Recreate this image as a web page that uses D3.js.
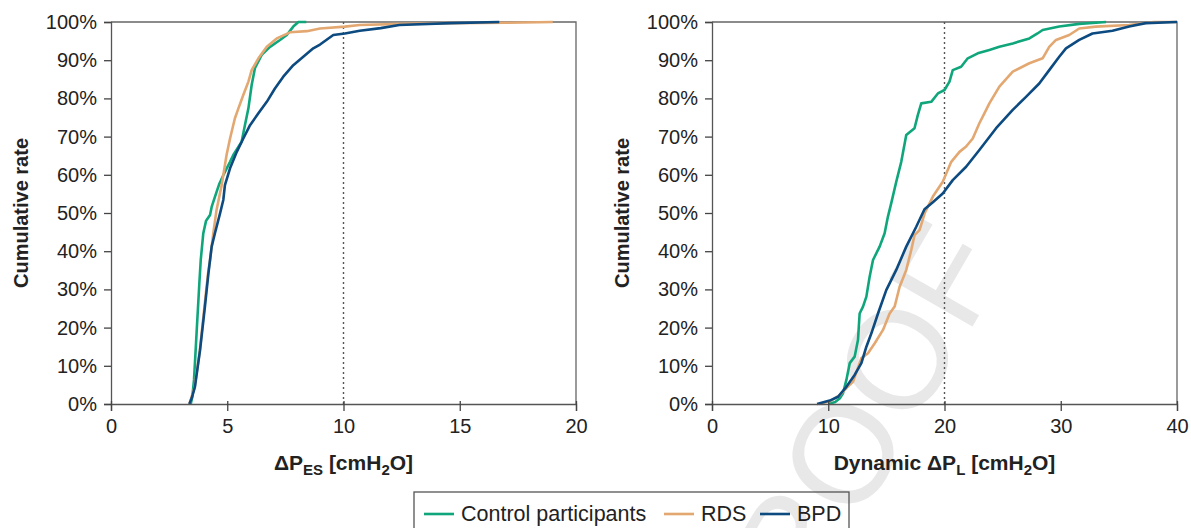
<!DOCTYPE html>
<html>
<head>
<meta charset="utf-8">
<script src="https://cdnjs.cloudflare.com/ajax/libs/d3/7.8.5/d3.min.js"></script>
<style>
  body { margin: 0; background: #fff; }
  svg { display: block; font-family: "Liberation Sans", Arial, sans-serif; }
</style>
</head>
<body>
<script>
// cumulative curves: [value in cmH2O, cumulative %]
var pesControl = [[3.43,0],[3.5,2],[3.57,6.3],[3.68,18.5],[3.8,31.6],[3.86,37.7],[3.97,44.7],[4.09,48],[4.26,49.5],[4.33,51.6],[4.47,54.2],[4.65,57.5],[4.83,59.9],[5.12,63.4],[5.26,65.2],[5.62,68.7],[5.76,73],[5.91,77.4],[6.05,83.5],[6.19,87.9],[6.48,91.4],[6.84,93.5],[7.27,95.3],[7.56,96.6],[7.84,98.8],[8.06,100],[8.4,100]];
var pesRDS = [[3.37,0],[3.6,4.5],[3.82,14],[4.02,25.5],[4.17,34],[4.26,37.7],[4.4,44.7],[4.54,50.8],[4.76,57.3],[4.97,65.2],[5.12,69.5],[5.33,74.8],[5.48,77.4],[5.69,80.9],[5.91,84.4],[6.05,87.4],[6.34,90.5],[6.7,93.5],[7.13,95.7],[7.7,97.3],[8.42,97.6],[8.99,98.3],[10.06,98.8],[10.7,99.2],[12.5,99.5],[14.6,99.7],[17,99.8],[19,100]];
var pesBPD = [[3.37,0],[3.47,1.5],[3.61,4.5],[3.83,14.1],[4.04,25.5],[4.19,34.2],[4.33,41.2],[4.47,44.7],[4.69,49.9],[4.83,53.4],[4.9,57.3],[5.12,61.7],[5.41,66],[5.69,69.5],[5.98,73],[6.34,76.1],[6.7,79.1],[7.05,82.6],[7.41,85.7],[7.84,88.7],[8.27,90.9],[8.7,93.1],[8.99,94.1],[9.56,96.6],[10.06,97],[10.7,97.7],[11.6,98.4],[12.4,99.2],[14.6,99.7],[16.7,100]];

var dplControl = [[10,0],[10.6,0.5],[11,1.5],[11.27,2.8],[11.56,6.3],[11.85,10.7],[12.27,12.4],[12.56,16.8],[12.7,23.7],[12.99,25.5],[13.28,28.1],[13.56,33.3],[13.85,37.7],[14.42,41.2],[14.85,44.7],[15.13,49],[15.42,52.6],[15.85,58.2],[16.28,63.4],[16.71,70.4],[17.42,72.2],[17.71,75.7],[18,78.7],[18.86,79.1],[19.43,81.3],[20,82.2],[20.43,84.4],[20.71,87.4],[21.43,88.3],[22,90.5],[22.86,91.8],[23.86,92.7],[24.72,93.5],[25.87,94.4],[27.3,95.7],[28,97],[28.44,97.9],[29.87,98.8],[31.59,99.5],[33.9,100]];
var dplRDS = [[9.2,0],[10.2,0.8],[11,2.3],[11.6,4.3],[12.13,5.8],[12.85,12],[13.42,13.3],[14,15.9],[14.71,19.4],[15.28,23.7],[15.71,25.5],[16.14,30.7],[16.71,35.1],[17.14,40.3],[17.42,44.2],[17.85,45.5],[18.3,50],[19,54.3],[19.85,58.2],[20.58,63.4],[21.29,66],[21.86,67.4],[22.43,69.5],[23,73.5],[23.43,76.1],[23.86,78.7],[24.72,83.1],[25.87,87],[27.3,89.2],[28.44,90.5],[29.01,93.5],[29.59,95.3],[30.73,96.6],[31.59,98.3],[33.02,98.8],[35.88,99.2],[38,100],[40,100]];
var dplBPD = [[9.04,0],[10.13,0.9],[10.84,1.9],[11.56,4.5],[12.27,7.6],[12.85,10.7],[13.28,15],[13.71,18.5],[14.28,23.7],[14.99,29.8],[15.85,35.1],[16.71,41.2],[17.57,46.4],[18.28,51],[19,52.8],[19.85,55.1],[20.71,58.6],[21.86,62.1],[23,66.5],[24.44,72.2],[25.87,77],[27.01,80.4],[28.15,83.9],[29.01,87.4],[29.87,90.9],[30.45,93.1],[31.59,95.3],[32.73,97],[34.45,97.7],[35.88,98.8],[37.3,99.7],[40,100]];

var groups = ["Control participants", "RDS", "BPD"];
var colors = ["#10a67b", "#e3a871", "#0c4a80"];
var yTicks = [0,10,20,30,40,50,60,70,80,90,100];
var pesTicks = [0,5,10,15,20];
var dplTicks = [0,10,20,30,40];
var pesCutoff = 10, dplCutoff = 20;

var W = 1191, H = 528,
	plotTop = 22, plotBottom = 404;

var svg = d3.select("body").append("svg")
	.attr("width", W).attr("height", H);

// watermark behind everything
svg.append("text")
	.attr("transform", "translate(885,478) rotate(-60)")
	.attr("text-anchor", "middle")
	.attr("font-size", 140)
	.attr("fill", "#e8e8e8")
	.text("PROOF");

var y = d3.scaleLinear().domain([0, 100]).range([plotBottom, plotTop]);

function panel(left, right, xmax, xTicks, cutoff, series, title) {
	var x = d3.scaleLinear().domain([0, xmax]).range([left, right]);
	var g = svg.append("g");

	// frame top + right
	g.append("path")
		.attr("d", "M" + left + "," + plotTop + "H" + right + "V" + plotBottom)
		.attr("fill", "none").attr("stroke", "#666").attr("stroke-width", 1.3);

	g.append("line")
		.attr("x1", x(cutoff)).attr("x2", x(cutoff))
		.attr("y1", plotTop).attr("y2", plotBottom)
		.attr("stroke", "#555").attr("stroke-width", 1.4)
		.attr("stroke-dasharray", "2,3");

	var line = d3.line()
		.x(function(d) { return x(d[0]); })
		.y(function(d) { return y(d[1]); });

	series.forEach(function(s, i) {
		g.append("path")
			.datum(s)
			.attr("d", line)
			.attr("fill", "none")
			.attr("stroke", colors[i])
			.attr("stroke-width", 2.6)
			.attr("stroke-linejoin", "round");
	});

	var ya = g.append("g")
		.attr("transform", "translate(" + left + ",0)")
		.call(d3.axisLeft(y).tickValues(yTicks).tickSize(7).tickPadding(7)
			.tickFormat(function(d) { return d + "%"; }));
	var xa = g.append("g")
		.attr("transform", "translate(0," + plotBottom + ")")
		.call(d3.axisBottom(x).tickValues(xTicks).tickSize(7).tickPadding(8));

	[ya, xa].forEach(function(a) {
		a.select(".domain").attr("stroke", "#555").attr("stroke-width", 1.3);
		a.selectAll(".tick line").attr("stroke", "#444").attr("stroke-width", 1.3);
		a.selectAll(".tick text").attr("font-size", 20).attr("fill", "#222")
			.attr("font-family", "Liberation Sans, Arial, sans-serif");
	});
	xa.selectAll(".tick line").attr("y1", -3);

	g.append("text")
		.attr("transform", "translate(" + (left - 83) + "," + ((plotTop + plotBottom) / 2) + ") rotate(-90)")
		.attr("text-anchor", "middle")
		.attr("font-size", 20).attr("font-weight", "bold").attr("fill", "#222")
		.text("Cumulative rate");

	var t = g.append("text")
		.attr("x", x(xmax / 2)).attr("y", 470)
		.attr("text-anchor", "middle")
		.attr("font-size", 21).attr("font-weight", "bold").attr("fill", "#222");
	t.append("tspan").text(title[0]);
	t.append("tspan").attr("font-size", 15).attr("dy", 5).text(title[1]);
	t.append("tspan").attr("dy", -5).text(" [cmH");
	t.append("tspan").attr("font-size", 15).attr("dy", 5).text("2");
	t.append("tspan").attr("dy", -5).text("O]");
}

panel(111, 576, 20, pesTicks, pesCutoff, [pesControl, pesRDS, pesBPD], ["\u0394P", "ES"]);
panel(712, 1177, 40, dplTicks, dplCutoff, [dplControl, dplRDS, dplBPD], ["Dynamic \u0394P", "L"]);

// legend
var lg = svg.append("g");
lg.append("rect")
	.attr("x", 414).attr("y", 492).attr("width", 435).attr("height", 50)
	.attr("fill", "#fff").attr("fill-opacity", 0).attr("stroke", "#555").attr("stroke-width", 1.3);
var lx = [424, 664, 760];
groups.forEach(function(name, i) {
	lg.append("line")
		.attr("x1", lx[i]).attr("x2", lx[i] + 30)
		.attr("y1", 514).attr("y2", 514)
		.attr("stroke", colors[i]).attr("stroke-width", 2.6);
	lg.append("text")
		.attr("x", lx[i] + 37).attr("y", 521)
		.attr("font-size", 21.5).attr("fill", "#222")
		.text(name);
});
</script>
</body>
</html>
